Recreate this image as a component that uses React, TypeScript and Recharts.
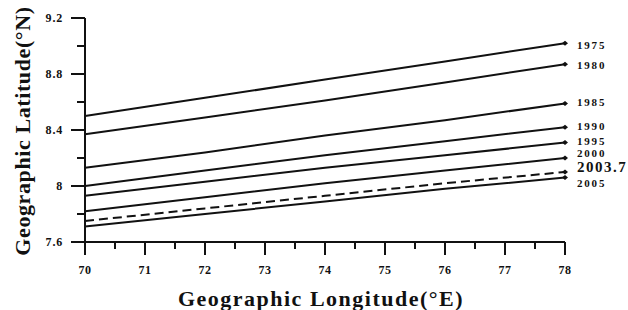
import { LineChart, Line, XAxis, YAxis } from "recharts";

// longitude sample points (°E)
const longitudes = [70, 72, 74, 76, 78];

// latitude of the magnetic equator for each epoch (°N)
const epochs = ["1975", "1980", "1985", "1990", "1995", "2000", "2003.7", "2005"];
const lat1975 = [8.5, 8.63, 8.76, 8.89, 9.02];
const lat1980 = [8.37, 8.49, 8.61, 8.74, 8.87];
const lat1985 = [8.13, 8.24, 8.36, 8.47, 8.59];
const lat1990 = [8.0, 8.11, 8.22, 8.32, 8.42];
const lat1995 = [7.93, 8.03, 8.13, 8.22, 8.31];
const lat2000 = [7.82, 7.92, 8.02, 8.11, 8.2];
const lat2003 = [7.75, 7.84, 7.93, 8.02, 8.1];
const lat2005 = [7.71, 7.8, 7.89, 7.98, 8.06];

const xMajor = [70, 71, 72, 73, 74, 75, 76, 77, 78];
const xMinor = [70.5, 71.5, 72.5, 73.5, 74.5, 75.5, 76.5, 77.5];
const yMajor = [7.6, 8, 8.4, 8.8, 9.2];
const yMinor = [7.8, 8.2, 8.6, 9];

const seriesValues = [lat1975, lat1980, lat1985, lat1990, lat1995, lat2000, lat2003, lat2005];

const data = longitudes.map((lon, i) => {
  const row: Record<string, number> = { lon };
  epochs.forEach((e, k) => {
    row[e] = seriesValues[k][i];
  });
  return row;
});

const FONT = "'Liberation Serif', 'Times New Roman', serif";
const INK = "#111";

// chart box (same numbers the LineChart gets)
const W = 628;
const H = 310;
const M = { top: 18, right: 63, left: 0, bottom: 0 };
const Y_AXIS_W = 85;
const X_AXIS_H = 68;
const X_DOMAIN = [70, 78];
const Y_DOMAIN = [7.6, 9.2];
const plotL = M.left + Y_AXIS_W;
const plotR = W - M.right;
const plotT = M.top;
const plotB = H - M.bottom - X_AXIS_H;
const sx = (v: number) => plotL + ((v - X_DOMAIN[0]) / (X_DOMAIN[1] - X_DOMAIN[0])) * (plotR - plotL);
const sy = (v: number) => plotB - ((v - Y_DOMAIN[0]) / (Y_DOMAIN[1] - Y_DOMAIN[0])) * (plotB - plotT);

// label vertical nudges so the stacked names don't collide
const labelDy: Record<string, number> = {
  "1975": 2,
  "1980": 1,
  "1985": -1,
  "1990": -1,
  "1995": -2,
  "2000": -5,
  "2003.7": -5,
  "2005": 5,
};

const XLabel = (props: any) => {
  const { x, y, payload } = props;
  return (
    <text x={x} y={y + 19} textAnchor="middle" fontFamily={FONT} fontWeight="bold" fontSize={12} letterSpacing={0.5} fill={INK} stroke="none">
      {payload.value}
    </text>
  );
};

const YLabel = (props: any) => {
  const { x, y, payload } = props;
  return (
    <text x={x - 8} y={y + 4} textAnchor="end" fontFamily={FONT} fontWeight="bold" fontSize={12} letterSpacing={0.8} fill={INK} stroke="none">
      {String(Math.round(payload.value * 10) / 10)}
    </text>
  );
};

const makeEnd = (name: string) => (props: any) => {
  const { cx, cy, index } = props;
  if (index !== longitudes.length - 1) return <g key={`d-${name}-${index}`} />;
  const big = name === "2003.7";
  return (
    <g key={`d-${name}-${index}`}>
      <path d={`M${cx - 3},${cy} L${cx},${cy - 2.5} L${cx + 3},${cy} L${cx},${cy + 2.5} Z`} fill={INK} stroke="none" />
      <text
        x={cx + 12}
        y={cy + labelDy[name]}
        dominantBaseline="central"
        fontFamily={FONT}
        fontWeight="bold"
        fontSize={big ? 15 : 11}
        letterSpacing={big ? 1.5 : 1.8}
        fill={INK}
        stroke="none"
      >
        {name}
      </text>
    </g>
  );
};

// tick marks on an overlay, the axis tick lines kept disappearing under the plot
function TickOverlay() {
  return (
    <svg width={W} height={H} style={{ position: "absolute", left: 0, top: 0, pointerEvents: "none" }}>
      {xMajor.map((v) => (
        <rect key={`xM${v}`} x={sx(v) - 1} y={plotB} width={2} height={13} fill={INK} />
      ))}
      {xMinor.map((v) => (
        <rect key={`xm${v}`} x={sx(v) - 1} y={plotB} width={2} height={7} fill={INK} />
      ))}
      {yMajor.map((v) => (
        <rect key={`yM${v}`} x={plotL - 14} y={sy(v) - 1} width={14} height={2} fill={INK} />
      ))}
      {yMinor.map((v) => (
        <rect key={`ym${v}`} x={plotL - 8} y={sy(v) - 1} width={8} height={2} fill={INK} />
      ))}
    </svg>
  );
}

export default function App() {
  return (
    <div style={{ position: "absolute", left: 0, top: 0, width: W, height: H, background: "#fff" }}>
      <LineChart width={W} height={H} data={data} margin={M}>
        <XAxis
          dataKey="lon"
          type="number"
          domain={X_DOMAIN}
          ticks={xMajor}
          height={X_AXIS_H}
          tickSize={13}
          tickMargin={0}
          stroke={INK}
          strokeWidth={2}
          tick={<XLabel />}
        />
        <YAxis
          type="number"
          domain={Y_DOMAIN}
          ticks={yMajor}
          width={Y_AXIS_W}
          tickSize={14}
          tickMargin={0}
          stroke={INK}
          strokeWidth={2}
          tick={<YLabel />}
        />
        {epochs.map((e) => (
          <Line
            key={e}
            dataKey={e}
            type="linear"
            stroke={INK}
            strokeWidth={2}
            strokeDasharray={e === "2003.7" ? "9 5" : undefined}
            dot={makeEnd(e)}
            activeDot={false}
            isAnimationActive={false}
          />
        ))}
        <text
          x={22}
          y={131}
          transform="rotate(-90 22 131)"
          textAnchor="middle"
          dominantBaseline="central"
          fontFamily={FONT}
          fontWeight="bold"
          fontSize={22}
          letterSpacing={0.6}
          fill={INK}
        >
          Geographic Latitude(°N)
        </text>
        <text
          x={321}
          y={298}
          textAnchor="middle"
          dominantBaseline="central"
          fontFamily={FONT}
          fontWeight="bold"
          fontSize={22}
          letterSpacing={1.5}
          fill={INK}
        >
          Geographic Longitude(°E)
        </text>
      </LineChart>
      <TickOverlay />
    </div>
  );
}
